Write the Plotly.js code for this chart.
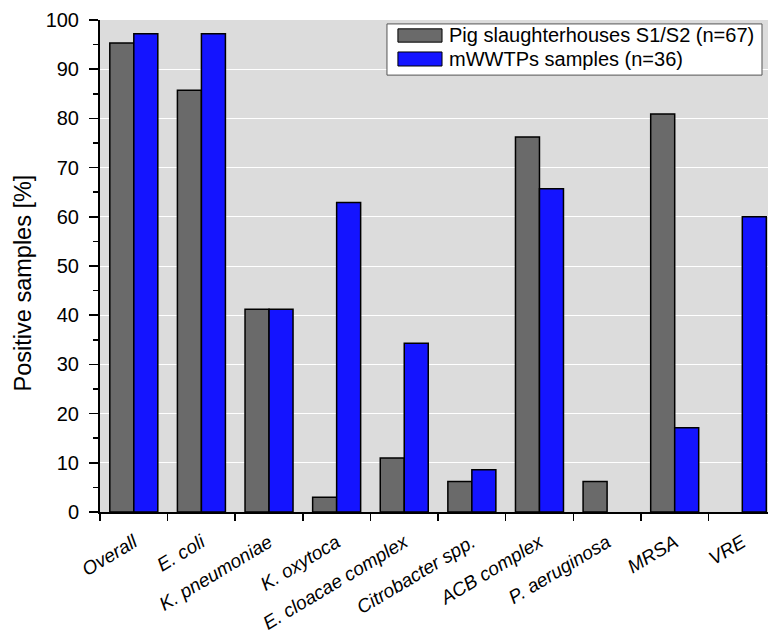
<!DOCTYPE html>
<html>
<head>
<meta charset="utf-8">
<script src="https://cdn.plot.ly/plotly-3.0.1.min.js"></script>
<style>html,body{margin:0;padding:0;background:#fff;}#chart{width:768px;height:637px;}</style>
</head>
<body>
<div id="chart"></div>
<script>
const categories = ["Overall", "E. coli", "K. pneumoniae", "K. oxytoca", "E. cloacae complex", "Citrobacter spp.", "ACB complex", "P. aeruginosa", "MRSA", "VRE"];
const pigValues = [95.3, 85.7, 41.2, 3.0, 11.0, 6.2, 76.2, 6.2, 80.9, 0];
const wwtpValues = [97.2, 97.2, 41.2, 62.9, 34.3, 8.6, 65.7, 0, 17.1, 60.0];
const seriesNames = ["Pig slaughterhouses S1/S2 (n=67)", "mWWTPs samples (n=36)"];
const seriesColors = ["#6a6a6a", "#1414ff"];
const yTicks = [0, 10, 20, 30, 40, 50, 60, 70, 80, 90, 100];
const yTitle = "Positive samples [%]";

// zero-valued bars are not drawn (no outline) in the original
const hideZero = v => (v === 0 ? null : v);

const traces = [pigValues, wwtpValues].map((vals, i) => ({
  type: "bar", x: categories, y: vals.map(hideZero), name: seriesNames[i],
  marker: {color: seriesColors[i], line: {color: "#000", width: 1.5}}
}));

// custom legend (box + swatches + text) in paper coordinates
const legendShapes = [
  {type: "rect", xref: "paper", yref: "paper", x0: 0.4296, x1: 0.991, y0: 0.888, y1: 0.992,
   fillcolor: "#fff", line: {color: "#555", width: 1}, layer: "above"},
  {type: "rect", xref: "paper", yref: "paper", x0: 0.446, x1: 0.512, y0: 0.955, y1: 0.982,
   fillcolor: seriesColors[0], line: {color: "#000", width: 1}, layer: "above"},
  {type: "rect", xref: "paper", yref: "paper", x0: 0.446, x1: 0.512, y0: 0.9065, y1: 0.935,
   fillcolor: seriesColors[1], line: {color: "#000", width: 1}, layer: "above"}
];
const annotations = [
  {xref: "paper", yref: "paper", x: 0.519, y: 0.9685, xanchor: "left", yanchor: "middle",
   text: seriesNames[0], showarrow: false, font: {size: 20, color: "#000"}},
  {xref: "paper", yref: "paper", x: 0.519, y: 0.9215, xanchor: "left", yanchor: "middle",
   text: seriesNames[1], showarrow: false, font: {size: 20, color: "#000"}},
  {xref: "paper", yref: "paper", x: -0.115, y: 0.465, xanchor: "center", yanchor: "middle",
   textangle: -90, text: yTitle, showarrow: false, font: {size: 23.5, color: "#000"}}
];

const layout = {
  width: 768, height: 637,
  margin: {l: 100, r: 0, t: 20, b: 125},
  paper_bgcolor: "#fff",
  plot_bgcolor: "#dcdcdc",
  barmode: "group",
  bargap: 0.29,
  bargroupgap: 0,
  font: {family: "Liberation Sans, Arial, sans-serif", color: "#000"},
  showlegend: false,
  shapes: legendShapes,
  annotations: annotations,
  xaxis: {
    type: "category",
    range: [-0.5, 9.38],
    tickson: "boundaries",
    ticks: "outside", ticklen: 7, tickwidth: 1.5, tickcolor: "#000",
    showline: true, linecolor: "#000", linewidth: 2,
    showgrid: false,
    tickangle: -31,
    tickfont: {family: "Liberation Sans, Arial, sans-serif", size: 19, style: "italic", color: "#000"},
    ticklabelstandoff: 10
  },
  yaxis: {
    range: [0, 100],
    tickvals: yTicks,
    ticks: "outside", ticklen: 9, tickwidth: 1.5, tickcolor: "#000",
    minor: {dtick: 5, ticks: "outside", ticklen: 5, tickwidth: 1.5, tickcolor: "#000", showgrid: false},
    showline: true, linecolor: "#000", linewidth: 2,
    showgrid: true, gridcolor: "#fff", gridwidth: 1,
    zeroline: false,
    tickfont: {size: 20, color: "#000"},
    ticklabelstandoff: 6
  }
};

Plotly.newPlot("chart", traces, layout, {displayModeBar: false, staticPlot: true});
</script>
</body>
</html>
